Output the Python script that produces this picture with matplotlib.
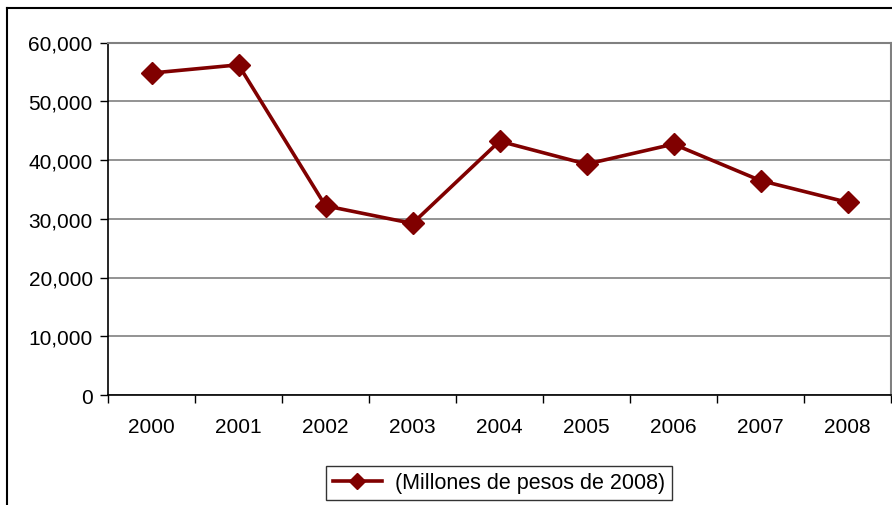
import matplotlib
matplotlib.use("Agg")
import matplotlib.pyplot as plt
from matplotlib.lines import Line2D
from matplotlib.ticker import FuncFormatter, FixedLocator

years = ["2000", "2001", "2002", "2003", "2004", "2005", "2006", "2007", "2008"]
values = [54800, 56200, 32200, 29200, 43200, 39300, 42700, 36500, 32800]
label = "(Millones de pesos de 2008)"

plt.rcParams['font.family'] = ['Liberation Sans', 'DejaVu Sans']

fig = plt.figure(figsize=(8.92, 5.06), dpi=100)
ax = fig.add_axes([108/892, 1-396/506, (891-108)/892, (396-43.5)/506])

x = list(range(len(years)))
ax.plot(x, values, color="#800000", lw=2.6, marker="D", ms=11,
        markeredgecolor="#800000", label=label, clip_on=False, zorder=3)

ax.set_xlim(-0.5, len(years) - 0.5)
ax.set_ylim(0, 60000)
ax.set_yticks(range(0, 60001, 10000))
ax.yaxis.set_major_formatter(FuncFormatter(lambda v, p: f"{int(v):,}"))
ax.yaxis.grid(True, color="#808080", lw=1.2)
ax.set_axisbelow(True)

ax.set_xticks(x)
ax.set_xticklabels(years)
ax.xaxis.set_minor_locator(FixedLocator([i - 0.5 for i in range(len(years) + 1)]))
ax.tick_params(axis="x", which="major", length=0, pad=16, labelsize=15)
ax.tick_params(axis="x", which="minor", length=6, width=1, direction="out")
ax.tick_params(axis="y", length=6, width=1, pad=5, labelsize=15)

for s in ["left", "bottom"]:
    ax.spines[s].set_color("black")
    ax.spines[s].set_linewidth(1.2)
for s in ["top", "right"]:
    ax.spines[s].set_color("#808080")
    ax.spines[s].set_linewidth(1.5)

# outer chart frame (only left and top visible)
fig.add_artist(Line2D([6.5/892, 6.5/892], [0, 1-9/506], transform=fig.transFigure,
                      color="black", lw=1.5))
fig.add_artist(Line2D([6.5/892, 1], [1-9/506, 1-9/506], transform=fig.transFigure,
                      color="black", lw=1.5))

leg = fig.legend(loc="center", bbox_to_anchor=(499/892, 1-484/506), fontsize=15.5,
                 frameon=True, fancybox=False, edgecolor="black", handlelength=2.3,
                 handletextpad=0.6, markerscale=0.75,
                 borderpad=0.3, borderaxespad=0)
leg.get_frame().set_linewidth(1.0)

fig.savefig("out.png", dpi=100)
